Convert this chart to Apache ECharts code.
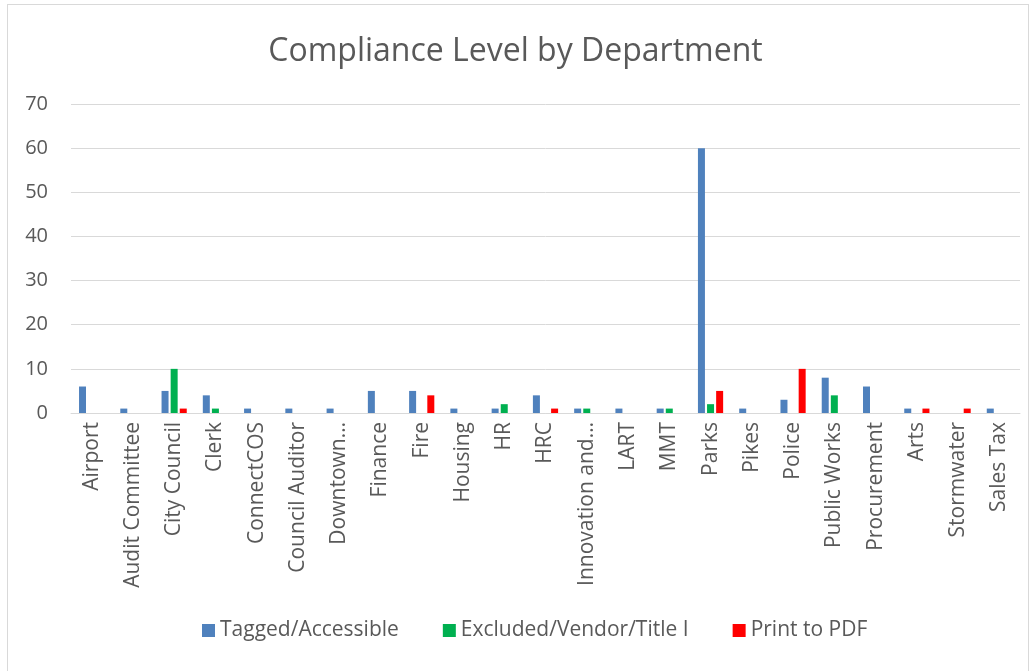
<!DOCTYPE html>
<html>
<head>
<meta charset="utf-8">
<script src="https://cdn.jsdelivr.net/npm/echarts@6/dist/echarts.min.js"></script>
<style>
  html, body { margin: 0; padding: 0; background: #fff; }
  #frame { position: absolute; left: 7px; top: 4px; width: 1022px; height: 670px; border: 1px solid #d9d9d9; box-sizing: border-box; }
  #chart { position: absolute; left: 0; top: 0; width: 1031px; height: 671px; }
</style>
</head>
<body>
<div id="frame"></div>
<div id="chart"></div>
<script>
const departments = ['Airport', 'Audit Committee', 'City Council', 'Clerk', 'ConnectCOS', 'Council Auditor',
  'Downtown…', 'Finance', 'Fire', 'Housing', 'HR', 'HRC', 'Innovation and…', 'LART', 'MMT', 'Parks',
  'Pikes', 'Police', 'Public Works', 'Procurement', 'Arts', 'Stormwater', 'Sales Tax']
const tagged = [6, 1, 5, 4, 1, 1, 1, 5, 5, 1, 1, 4, 1, 1, 1, 60, 1, 3, 8, 6, 1, 0, 1]
const excluded = [0, 0, 10, 1, 0, 0, 0, 0, 0, 0, 2, 0, 1, 0, 1, 2, 0, 0, 4, 0, 0, 0, 0]
const printPdf = [0, 0, 1, 0, 0, 0, 0, 0, 4, 0, 0, 1, 0, 0, 0, 5, 0, 10, 0, 0, 1, 1, 0]

const font = '"Open Sans", "Noto Sans", sans-serif'
const textColor = '#595959'

const chart = echarts.init(document.getElementById('chart'))

const barSeries = (name, data, color) => ({
  name,
  type: 'bar',
  data,
  barWidth: 7,
  barGap: '30%',
  itemStyle: { color },
})

chart.setOption({
  animation: false,
  textStyle: { fontFamily: font },
  title: {
    text: 'Compliance Level by Department',
    left: 'center',
    top: 31,
    textStyle: { fontFamily: font, fontSize: 32, fontWeight: 'normal', color: textColor },
  },
  legend: {
    bottom: 25,
    left: 197,
    itemWidth: 13,
    itemHeight: 13,
    itemGap: 44,
    icon: 'rect',
    textStyle: { fontFamily: font, fontSize: 21, color: textColor },
  },
  grid: { left: 71, right: 11, top: 104, bottom: 258, containLabel: false },
  xAxis: {
    type: 'category',
    data: departments,
    axisLine: { lineStyle: { color: '#d9d9d9' } },
    axisTick: { show: false },
    axisLabel: {
      rotate: 90,
      interval: 0,
      margin: 9,
      fontFamily: font,
      fontSize: 21,
      color: textColor,
    },
  },
  yAxis: {
    type: 'value',
    min: 0,
    max: 70,
    interval: 10,
    axisLine: { show: false },
    axisTick: { show: false },
    splitLine: { lineStyle: { color: '#d9d9d9' } },
    axisLabel: { margin: 23, fontFamily: font, fontSize: 20, color: textColor },
  },
  series: [
    barSeries('Tagged/Accessible', tagged, '#4f81bd'),
    barSeries('Excluded/Vendor/Title I', excluded, '#00b050'),
    barSeries('Print to PDF', printPdf, '#ff0000'),
  ],
})
</script>
</body>
</html>
